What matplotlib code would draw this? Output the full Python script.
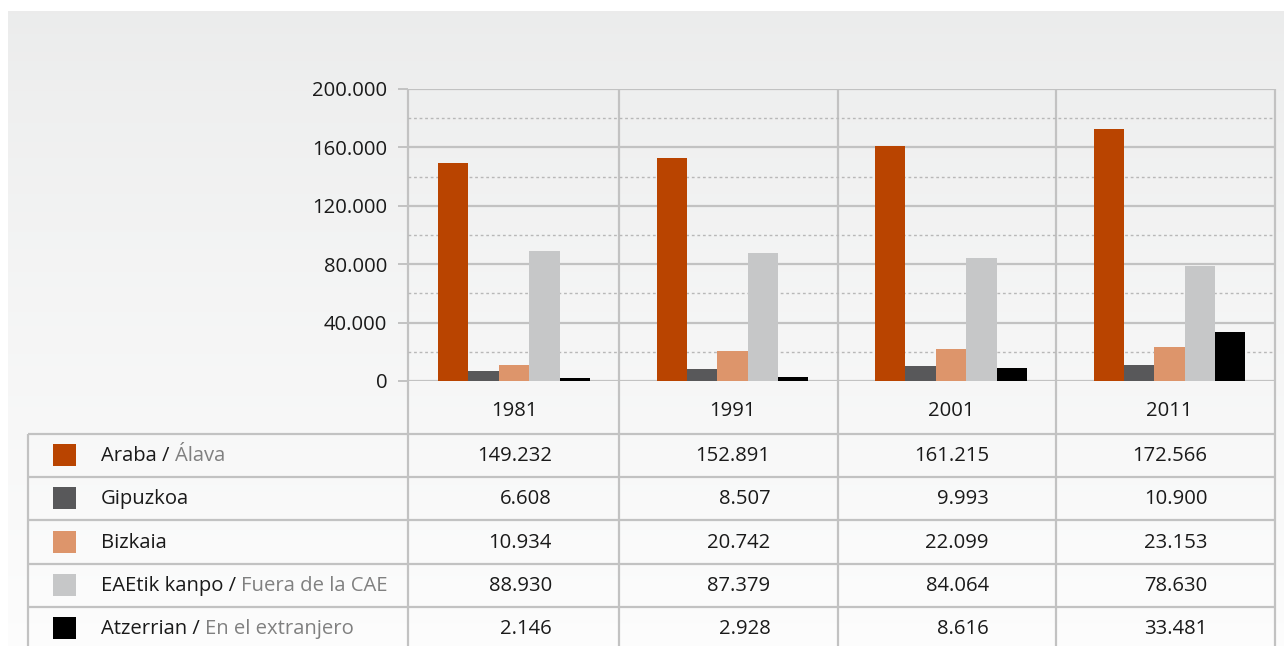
import matplotlib.pyplot as plt
import numpy as np

years = ["1981", "1991", "2001", "2011"]
series_eu = ["Araba", "Gipuzkoa", "Bizkaia", "EAEtik kanpo", "Atzerrian"]
series_es = ["Álava", "", "", "Fuera de la CAE", "En el extranjero"]
araba = [149232, 152891, 161215, 172566]
gipuzkoa = [6608, 8507, 9993, 10900]
bizkaia = [10934, 20742, 22099, 23153]
kanpo = [88930, 87379, 84064, 78630]
atzerrian = [2146, 2928, 8616, 33481]
values = [araba, gipuzkoa, bizkaia, kanpo, atzerrian]
colors = ["#b94400", "#58585a", "#dd956b", "#c6c7c8", "#000000"]

plt.rcParams['font.family'] = ['Open Sans', 'DejaVu Sans']
FS = 14.6

W, H = 1284, 646
fig = plt.figure(figsize=(W / 100, H / 100), dpi=100)
fig.patch.set_facecolor("white")

# background / table layer in pixel coordinates
bg = fig.add_axes([0, 0, 1, 1], zorder=0)
bg.set_xlim(0, W)
bg.set_ylim(H, 0)
bg.axis("off")
grad = np.linspace(0, 1, 256).reshape(-1, 1) ** 0.8
top, bot = np.array([0.922, 0.925, 0.925]), np.array([0.99, 0.99, 0.99])
img = top + (bot - top) * grad[:, :, None]
bg.imshow(img, extent=[8, W, H, 11], aspect="auto", interpolation="bilinear")

line_c = "#c2c2c2"
col_edges = [408, 619, 837.5, 1056, 1275]
for x in col_edges:
    bg.plot([x, x], [89, H], color=line_c, lw=1.6, solid_capstyle="butt")
bg.plot([28, 28], [434, H], color=line_c, lw=1.6, solid_capstyle="butt")
row_lines = [434, 477, 520, 564, 607]
for y in row_lines:
    bg.plot([28, 1275], [y, y], color=line_c, lw=1.6, solid_capstyle="butt")

# bars
ax = fig.add_axes([408 / W, (H - 381) / H, (1275 - 408) / W, (381 - 89) / H], zorder=1)
ax.patch.set_alpha(0)
x = np.arange(len(years))
bw = 0.139
for i, (vals, c) in enumerate(zip(values, colors)):
    ax.bar(x + (i - 2) * bw, vals, width=bw, color=c, zorder=3)
ax.set_xlim(-0.485, 3.483)
ax.set_ylim(0, 200000)
ax.set_yticks(range(0, 200001, 40000))
ax.set_yticklabels(["0", "40.000", "80.000", "120.000", "160.000", "200.000"])
ax.set_yticks(range(20000, 200000, 40000), minor=True)
ax.grid(axis="y", which="major", color=line_c, lw=1.6)
ax.grid(axis="y", which="minor", color="#b8b8b8", lw=1, linestyle=(0, (2, 2)))
ax.set_axisbelow(True)
ax.set_xticks([])
for s in ax.spines.values():
    s.set_visible(False)
ax.tick_params(axis="y", which="major", length=7, width=1.4, color=line_c, pad=8,
               labelsize=FS, labelcolor="#1a1a1a")
ax.tick_params(axis="y", which="minor", length=0)

# year row
for i, yr in enumerate(years):
    cx = 514 + 218.5 * i
    bg.text(cx, 411, yr, ha="center", va="center", fontsize=FS, color="#1a1a1a")

# table rows
row_c = [456, 499, 542.5, 586, 629]
for r, (eu, es, vals, c) in enumerate(zip(series_eu, series_es, values, colors)):
    yc = row_c[r]
    bg.add_patch(plt.Rectangle((53, yc - 12), 23, 22, color=c, lw=0))
    label = eu + " / " if es else eu
    t = bg.text(101, yc, label, ha="left", va="center", fontsize=FS, color="#1a1a1a")
    if es:
        bg.annotate(es, xy=(1, 0.5), xycoords=t, ha="left", va="center",
                    fontsize=FS, color="#808080")
    for i, v in enumerate(vals):
        cx = 514 + 218.5 * i
        s = f"{v:,}".replace(",", ".")
        bg.text(cx + 38, yc, s, ha="right", va="center", fontsize=FS, color="#1a1a1a")

fig.savefig("out.png", dpi=100)
